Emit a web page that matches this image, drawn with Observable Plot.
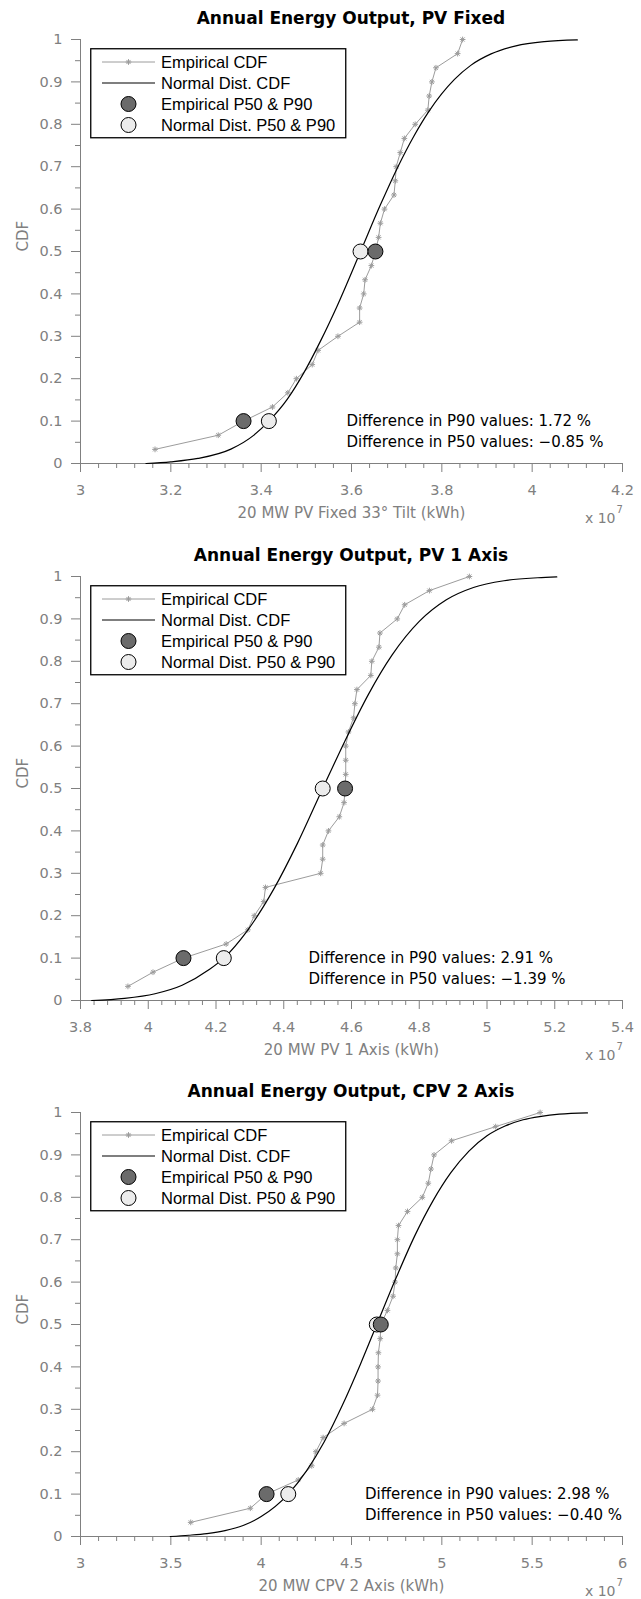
<!DOCTYPE html>
<html><head><meta charset="utf-8">
<script src="https://cdn.jsdelivr.net/npm/d3@7"></script>
<script src="https://cdn.jsdelivr.net/npm/@observablehq/plot@0.6"></script>
<style>
body{margin:0;background:#fff;}
.panel{position:relative;width:641px;overflow:visible;}
.title{position:absolute;left:80px;width:542px;text-align:center;font-family:"DejaVu Sans";font-weight:bold;font-size:17px;line-height:20px;top:8px;color:#000;}
.legend{position:absolute;left:90px;top:48px;}
svg{display:block;}
</style></head><body><div id="root"></div>
<script>
// ---------- data ----------
const titles = ["Annual Energy Output, PV Fixed", "Annual Energy Output, PV 1 Axis", "Annual Energy Output, CPV 2 Axis"];
const xLabels = ["20 MW PV Fixed 33° Tilt (kWh)", "20 MW PV 1 Axis (kWh)", "20 MW CPV 2 Axis (kWh)"];
const legendLabels = ["Empirical CDF", "Normal Dist. CDF", "Empirical P50 & P90", "Normal Dist. P50 & P90"];

const xTicks1 = [3, 3.2, 3.4, 3.6, 3.8, 4, 4.2];
const xTicks2 = [3.8, 4, 4.2, 4.4, 4.6, 4.8, 5, 5.2, 5.4];
const xTicks3 = [3, 3.5, 4, 4.5, 5, 5.5, 6];
const xMinorStep = [0.04, 0.04, 0.1];
const yTicks = [0, 0.1, 0.2, 0.3, 0.4, 0.5, 0.6, 0.7, 0.8, 0.9, 1];
const yMinor = [0.05, 0.15, 0.25, 0.35, 0.45, 0.55, 0.65, 0.75, 0.85, 0.95];

// empirical CDF levels (30 samples)
const cdfLevels = [0.0333,0.0667,0.1,0.1333,0.1667,0.2,0.2333,0.2667,0.3,0.3333,0.3667,0.4,0.4333,0.4667,0.5,
  0.5333,0.5667,0.6,0.6333,0.6667,0.7,0.7333,0.7667,0.8,0.8333,0.8667,0.9,0.9333,0.9667,1];

// empirical energy values (x 1e7 kWh)
const empPVFixed = [3.165,3.305,3.361,3.425,3.459,3.478,3.513,3.526,3.570,3.618,3.618,3.627,3.630,3.644,3.653,
  3.660,3.664,3.673,3.694,3.697,3.699,3.708,3.717,3.741,3.769,3.772,3.778,3.787,3.835,3.846];
const empPV1Axis = [3.940,4.014,4.104,4.230,4.294,4.313,4.341,4.346,4.509,4.515,4.515,4.532,4.564,4.578,4.581,
  4.583,4.583,4.583,4.591,4.606,4.610,4.616,4.657,4.660,4.681,4.684,4.735,4.757,4.830,4.948];
const empCPV2Axis = [3.610,3.940,4.030,4.205,4.280,4.303,4.343,4.459,4.616,4.644,4.647,4.647,4.649,4.659,4.662,
  4.699,4.730,4.741,4.745,4.754,4.754,4.760,4.810,4.892,4.925,4.940,4.957,5.054,5.298,5.544];

// normal distribution CDF curves
const normX1 = [3.145,3.2,3.26,3.333,3.384,3.417,3.458,3.495,3.531,3.568,3.620,3.664,3.701,3.738,3.771,3.828,3.864,3.909,3.964,4.027,4.10];
const normY1 = [0,0.004,0.012,0.034,0.067,0.1,0.152,0.215,0.288,0.371,0.5,0.61,0.696,0.772,0.83,0.906,0.939,0.966,0.985,0.995,0.999];
const normX2 = [3.833,3.93,4.02,4.10,4.18,4.223,4.29,4.37,4.44,4.515,4.58,4.65,4.72,4.80,4.88,4.96,5.05,5.15,5.206];
const normY2 = [0,0.005,0.016,0.036,0.073,0.1,0.162,0.262,0.37,0.5,0.611,0.722,0.815,0.894,0.945,0.974,0.99,0.997,0.999];
const normX3 = [3.497,3.6,3.7,3.8,3.9,4.0,4.15,4.25,4.35,4.45,4.55,4.64,4.75,4.85,4.95,5.05,5.15,5.25,5.35,5.45,5.55,5.65,5.806];
const normY3 = [0,0.003,0.007,0.014,0.026,0.047,0.1,0.154,0.224,0.31,0.407,0.5,0.613,0.709,0.791,0.858,0.909,0.945,0.968,0.983,0.991,0.996,0.999];

// P90 / P50 points
const pLevels = [0.1, 0.5];
const empP1 = [3.361, 3.653], normP1 = [3.417, 3.620];
const empP2 = [4.104, 4.581], normP2 = [4.223, 4.515];
const empP3 = [4.030, 4.662], normP3 = [4.150, 4.640];

const diffText1 = ["Difference in P90 values: 1.72 %", "Difference in P50 values: \u22120.85 %"];
const diffText2 = ["Difference in P90 values: 2.91 %", "Difference in P50 values: \u22121.39 %"];
const diffText3 = ["Difference in P90 values: 2.98 %", "Difference in P50 values: \u22120.40 %"];
const diffLevels = [0.1, 0.05];
const diffAnchorX = [3.589, 4.473, 4.575];

// ---------- build ----------
const gray = "#808080";
const empColor = "#9c9c9c";
const darkFill = "#6b6b6b", lightFill = "#ececec";

const panels = [
  {title: titles[0], xLabel: xLabels[0], ticks: xTicks1, emp: empPVFixed, nx: normX1, ny: normY1, ep: empP1, np: normP1, diff: diffText1, h: 537},
  {title: titles[1], xLabel: xLabels[1], ticks: xTicks2, emp: empPV1Axis, nx: normX2, ny: normY2, ep: empP2, np: normP2, diff: diffText2, h: 536},
  {title: titles[2], xLabel: xLabels[2], ticks: xTicks3, emp: empCPV2Axis, nx: normX3, ny: normY3, ep: empP3, np: normP3, diff: diffText3, h: 526}
];

const fmt = d => String(+d.toFixed(2));
const root = document.getElementById("root");

panels.forEach((p, i) => {
  const lo = p.ticks[0], hi = p.ticks[p.ticks.length - 1];
  const step = xMinorStep[i];
  const minor = d3.range(Math.round((hi - lo) / step) + 1).map(k => +(lo + k * step).toFixed(3))
    .filter(v => !p.ticks.some(t => Math.abs(t - v) < 1e-6));
  const empData = p.emp.map((x, k) => ({x, y: cdfLevels[k]}));
  const normData = p.nx.map((x, k) => ({x, y: p.ny[k]}));
  const empPts = p.ep.map((x, k) => ({x, y: pLevels[k]}));
  const normPts = p.np.map((x, k) => ({x, y: pLevels[k]}));
  const diffData = p.diff.map((t, k) => ({t, x: diffAnchorX[i], y: diffLevels[k]}));

  const chart = Plot.plot({
    width: 641,
    height: p.h,
    marginLeft: 80,
    marginRight: 19,
    marginTop: 39,
    marginBottom: p.h - 463,
    style: {fontFamily: "DejaVu Sans", fontSize: "14.5px", background: "#fff"},
    x: {domain: [lo, hi], axis: null},
    y: {domain: [0, 1], axis: null},
    marks: [
      Plot.ruleY([0], {stroke: gray}),
      Plot.ruleX([lo], {stroke: gray}),
      Plot.axisX({ticks: p.ticks, tickSize: 9, tickPadding: 12, tickFormat: fmt, color: gray, label: null, fontSize: 14.5}),
      Plot.axisX({ticks: minor, tickSize: 5, tickFormat: () => "", color: gray, label: null}),
      Plot.axisY({ticks: yTicks, tickSize: 9, tickPadding: 9, tickFormat: fmt, color: gray, label: null, fontSize: 14.5}),
      Plot.axisY({ticks: yMinor, tickSize: 5, tickFormat: () => "", color: gray, label: null}),
      Plot.text([p.xLabel], {text: d => d, frameAnchor: "bottom", dy: 54, fill: gray, fontSize: 15}),
      Plot.text(["x 10"], {text: d => d, frameAnchor: "bottom-right", textAnchor: "end", dx: -7, dy: 59, fill: gray, fontSize: 14}),
      Plot.text(["7"], {text: d => d, frameAnchor: "bottom-right", textAnchor: "start", dx: -6, dy: 49, fill: gray, fontSize: 10}),
      Plot.text(["CDF"], {text: d => d, frameAnchor: "left", dx: -57, rotate: -90, fill: gray, fontSize: 15}),
      Plot.line(empData, {x: "x", y: "y", stroke: empColor, strokeWidth: 1}),
      Plot.dot(empData, {x: "x", y: "y", symbol: "plus", r: 2, stroke: empColor, strokeWidth: 1}),
      Plot.dot(empData, {x: "x", y: "y", symbol: "times", r: 2, stroke: empColor, strokeWidth: 1}),
      Plot.line(normData, {x: "x", y: "y", stroke: "#000", strokeWidth: 1.2, curve: "monotone-x"}),
      Plot.dot(normPts, {x: "x", y: "y", r: 7.5, fill: lightFill, stroke: "#000", strokeWidth: 1}),
      Plot.dot(empPts, {x: "x", y: "y", r: 7.5, fill: darkFill, stroke: "#000", strokeWidth: 1}),
      Plot.text(diffData, {x: "x", y: "y", text: "t", textAnchor: "start", fill: "#000", fontSize: 15})
    ]
  });

  const div = document.createElement("div");
  div.className = "panel";
  div.style.height = p.h + "px";
  div.appendChild(chart);
  const t = document.createElement("div");
  t.className = "title";
  t.textContent = p.title;
  div.appendChild(t);

  // legend overlay
  const lg = document.createElement("div");
  lg.className = "legend";
  const W = 255, H = 89;
  const svg = d3.create("svg").attr("width", W + 2).attr("height", H + 2);
  svg.append("rect").attr("x", 0.75).attr("y", 0.75).attr("width", W).attr("height", H)
    .attr("fill", "#fff").attr("stroke", "#000").attr("stroke-width", 1.3);
  legendLabels.forEach((lab, k) => {
    const cy = 14 + 21 * k;
    if (k === 0) {
      svg.append("line").attr("x1", 12).attr("x2", 65).attr("y1", cy).attr("y2", cy).attr("stroke", empColor);
      [d3.symbolPlus, d3.symbolTimes].forEach(sym => {
        svg.append("path").attr("d", d3.symbol(sym, Math.PI * 4)()).attr("transform", `translate(38.5,${cy})`)
          .attr("stroke", empColor).attr("fill", "none");
      });
    } else if (k === 1) {
      svg.append("line").attr("x1", 12).attr("x2", 65).attr("y1", cy).attr("y2", cy).attr("stroke", "#000").attr("stroke-width", 1.2);
    } else {
      svg.append("circle").attr("cx", 38.5).attr("cy", cy).attr("r", 7.5)
        .attr("fill", k === 2 ? darkFill : lightFill).attr("stroke", "#000");
    }
    svg.append("text").attr("x", 71).attr("y", cy).attr("dy", "0.35em")
      .attr("font-family", "Liberation Sans").attr("font-size", 16.5).attr("fill", "#000").text(lab);
  });
  lg.appendChild(svg.node());
  div.appendChild(lg);
  root.appendChild(div);
});
</script>
</body></html>
